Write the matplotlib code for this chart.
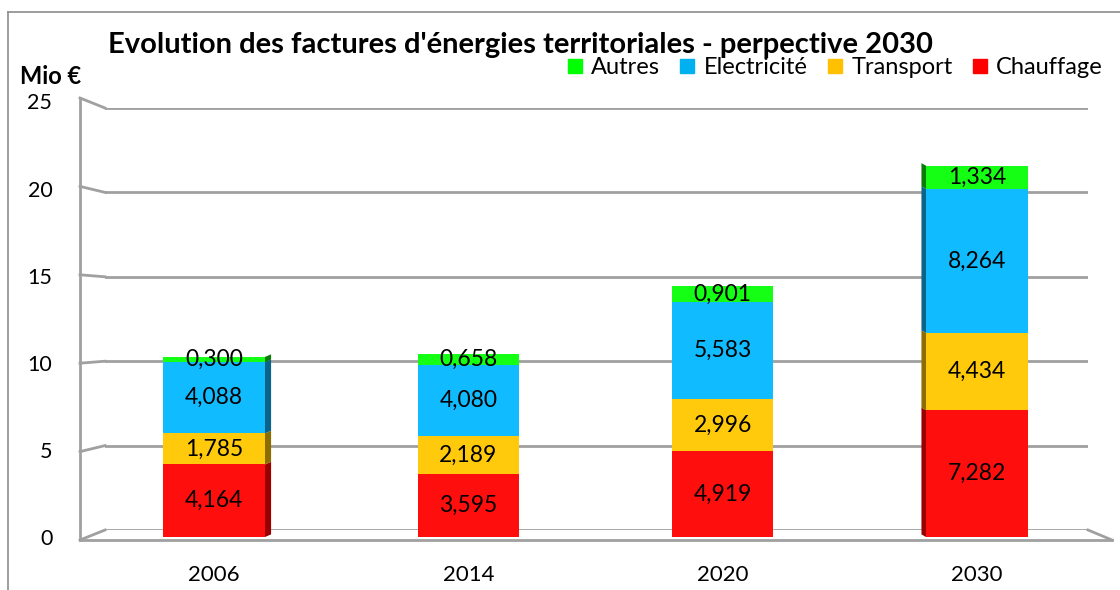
import matplotlib
matplotlib.use('Agg')
import matplotlib.pyplot as plt
from matplotlib.lines import Line2D
from matplotlib.patches import Polygon

plt.rcParams['font.family'] = ['Lato', 'DejaVu Sans']

years = ['2006', '2014', '2020', '2030']
chauffage = [4.164, 3.595, 4.919, 7.282]
transport = [1.785, 2.189, 2.996, 4.434]
electricite = [4.088, 4.080, 5.583, 8.264]
autres = [0.300, 0.658, 0.901, 1.334]

series = [('Chauffage', chauffage, '#FF0E0E', '#9A0000'),
          ('Transport', transport, '#FFCA0C', '#8C6E00'),
          ('Electricité', electricite, '#10BCFF', '#0A6388'),
          ('Autres', autres, '#14FF14', '#0A7A0A')]
legend_colors = {'Autres': '#00FF00', 'Electricité': '#00B0F0',
                 'Transport': '#FFC000', 'Chauffage': '#FF0000'}
yticks = [0, 5, 10, 15, 20, 25]
# side face depth per bar (fraction of a category), + = right side, - = left side
side = [0.024, 0.0, 0.0, -0.018]

W, H = 1120, 590
fig = plt.figure(figsize=(W / 100, H / 100), dpi=100)


def px(x, y):
    return x / W, 1 - y / H


# back wall with gridlines
axb = fig.add_axes([105 / W, 1 - 530 / H, (1088 - 105) / W, (530 - 108) / H])
axb.set_ylim(0, 25)
axb.set_xlim(0, 1)
axb.set_yticks(yticks)
axb.set_xticks([])
axb.tick_params(left=False, labelleft=False)
axb.grid(axis='y', color='#A0A0A0', lw=2)
for s in axb.spines.values():
    s.set_visible(False)

# bars in front
ax = fig.add_axes([87 / W, 1 - 537 / H, 1017 / W, (537 - 101.5) / H])
ax.patch.set_alpha(0)
ax.set_xlim(-0.5, 3.5)
ax.set_ylim(0, 25)
for s in ax.spines.values():
    s.set_visible(False)

w = 0.4
x = range(len(years))
bottom = [0.0] * len(years)
for name, vals, col, dark in series:
    ax.bar(x, vals, w, bottom=bottom, color=col, label=name, zorder=3)
    for i, v in enumerate(vals):
        b = bottom[i]
        d = side[i]
        if d != 0:
            edge = i + w / 2 if d > 0 else i - w / 2
            poly = Polygon([(edge, b), (edge + d, b + 0.15), (edge + d, b + v + 0.15), (edge, b + v)],
                           closed=True, color=dark, zorder=2, lw=0)
            ax.add_patch(poly)
        ax.text(i, b + v / 2, f'{v:.3f}'.replace('.', ','), ha='center', va='center',
                fontsize=16.5, color='black', zorder=5)
    bottom = [b + v for b, v in zip(bottom, vals)]

ax.set_yticks(yticks)
ax.set_yticklabels([str(t) for t in yticks], fontsize=15.5)
ax.tick_params(axis='y', length=0, pad=25)
ax.set_xticks(list(x))
ax.set_xticklabels(years, fontsize=16)
ax.tick_params(axis='x', length=0, pad=20)

# front axis, floor and slanted connectors
line_kw = dict(transform=fig.transFigure, color='#A0A0A0', lw=2)
front0, front_scale = 540, (540 - 98) / 25
back0, back_scale = 530, (530 - 108) / 25
fig.add_artist(Line2D(*zip(px(80, front0 - 25 * front_scale), px(80, front0)), **line_kw))
fig.add_artist(Line2D(*zip(px(80, front0), px(1112, front0)), **line_kw))
fig.add_artist(Line2D(*zip(px(1112, front0), px(1088, back0)), **line_kw))
for t in yticks:
    fig.add_artist(Line2D(*zip(px(80, front0 - t * front_scale), px(105, back0 - t * back_scale)), **line_kw))

# outer chart frame
frame_kw = dict(transform=fig.transFigure, color='#8C8C8C', lw=1.2)
fig.add_artist(Line2D(*zip(px(8, 12), px(8, 590)), **frame_kw))
fig.add_artist(Line2D(*zip(px(8, 12), px(1120, 12)), **frame_kw))

fig.text(*px(520, 45), "Evolution des factures d'énergies territoriales - perpective 2030",
         ha='center', va='center', fontsize=21, fontweight='bold')
fig.text(*px(20, 77), 'Mio €', ha='left', va='center', fontsize=17, fontweight='bold')

handles = [Line2D([], [], marker='s', ls='', markersize=10, color=legend_colors[n])
           for n in ['Autres', 'Electricité', 'Transport', 'Chauffage']]
fig.legend(handles, ['Autres', 'Electricité', 'Transport', 'Chauffage'], ncol=4,
           loc='center right', bbox_to_anchor=px(1103, 68), frameon=False,
           fontsize=17, handlelength=0.7, handletextpad=0.35, columnspacing=0.8,
           borderaxespad=0, borderpad=0)

fig.savefig('out.png', dpi=100)
